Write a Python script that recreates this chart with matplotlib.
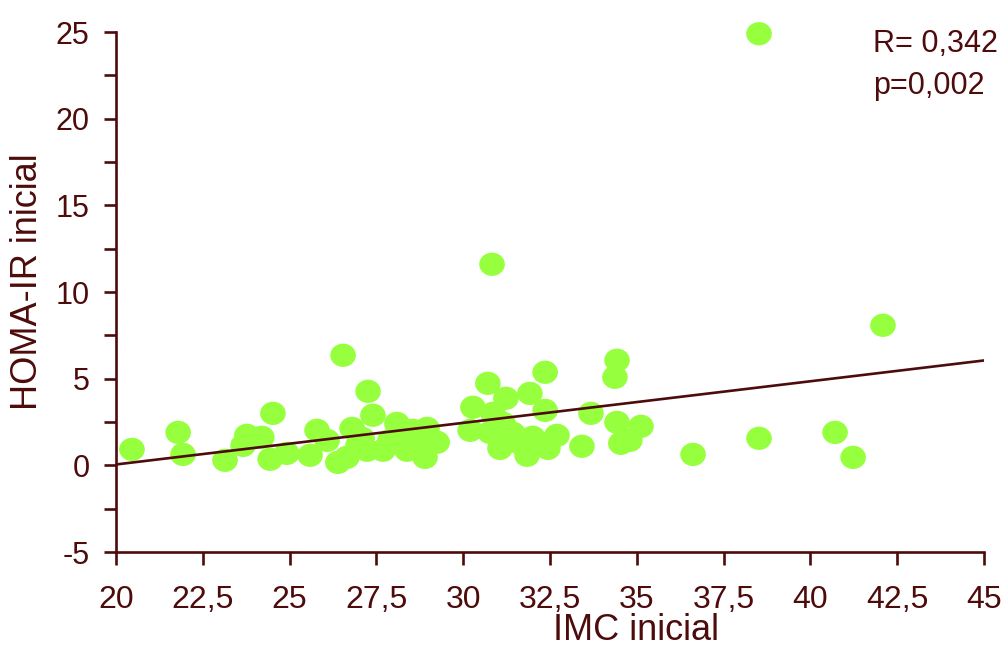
import numpy as np
import matplotlib
matplotlib.use("Agg")
import matplotlib.pyplot as plt
from matplotlib.path import Path
from matplotlib.transforms import Affine2D

# IMC inicial (x) vs HOMA-IR inicial (y)
imc = [20.46, 21.79, 21.93, 23.14, 23.66, 23.77, 24.2, 24.52, 24.44, 24.92,
       25.59, 25.79, 26.08, 26.39, 26.54, 26.65, 26.8, 26.97, 27.09, 27.23,
       27.26, 27.4, 27.69, 28.09, 27.89, 28.3, 28.38, 28.55, 28.9, 28.96,
       29.25, 28.67, 30.2, 30.28, 30.71, 30.86, 30.83, 31.06, 31.15, 31.23,
       31.43, 30.77, 31.84, 31.92, 32.0, 32.36, 32.36, 32.44, 32.7, 31.64,
       32.21, 33.42, 33.68, 34.43, 34.37, 34.43, 35.12, 34.54, 34.8, 36.62,
       38.52, 38.52, 40.71, 41.23, 42.09]
homa = [0.92, 1.90, 0.63, 0.29, 1.15, 1.73, 1.62, 3.0, 0.35, 0.69,
        0.58, 2.02, 1.44, 0.17, 6.35, 0.46, 2.13, 1.15, 1.56, 0.87,
        4.27, 2.89, 0.87, 2.42, 1.44, 1.62, 0.87, 2.02, 0.46, 2.13,
        1.33, 1.04, 2.02, 3.35, 4.73, 3.0, 11.6, 0.98, 2.42, 3.87,
        1.85, 1.90, 0.58, 4.15, 1.62, 5.37, 3.17, 0.98, 1.73, 1.27,
        1.27, 1.10, 3.0, 6.06, 5.08, 2.48, 2.25, 1.27, 1.44, 0.63,
        1.56, 24.9, 1.90, 0.46, 8.08]

# regression line end points
fit_x = [20, 45]
fit_y = [0.05, 6.05]

xtick_labels = ["20", "22,5", "25", "27,5", "30", "32,5", "35",
                "37,5", "40", "42,5", "45"]
stats_text = ["R= 0,342", "p=0,002"]

dark = "#4d0b0b"
green = "#96ff3e"

plt.rcParams['font.family'] = ['Liberation Sans', 'DejaVu Sans']
plt.rcParams['axes.unicode_minus'] = False

W, H = 1004, 646
fig = plt.figure(figsize=(W / 100, H / 100), dpi=100)
ax = fig.add_axes([116 / W, 94 / H, 868 / W, 520 / H])

# slightly wide ellipse marker
ell = Path.unit_circle().transformed(Affine2D().scale(1.1, 1.0))
ax.scatter(imc, homa, s=340, marker=ell, color=green, edgecolors='none',
           zorder=2, clip_on=False)
ax.plot(fit_x, fit_y, color=dark, lw=1.9, zorder=3)

ax.set_xlim(20, 45)
ax.set_ylim(-5, 25)
ax.set_xticks(np.arange(20, 45.1, 2.5))
ax.set_xticklabels(xtick_labels)
ax.set_yticks(np.arange(-5, 25.1, 5))
ax.set_yticks(np.arange(-2.5, 25, 5), minor=True)

for s in ['top', 'right']:
    ax.spines[s].set_visible(False)
for s in ['left', 'bottom']:
    ax.spines[s].set_color(dark)
    ax.spines[s].set_linewidth(1.9)

ax.tick_params(which='both', direction='out', color=dark, width=1.9,
               labelcolor=dark)
ax.tick_params(which='major', length=9)
ax.tick_params(which='minor', length=9)
ax.tick_params(axis='x', labelsize=23, pad=15)
ax.tick_params(axis='y', labelsize=22, pad=10)

# axis titles placed where they sit in the reference
fig.text(636 / W, 1 - 630 / H, "IMC inicial", fontsize=26, color=dark,
         ha='center', va='center')
fig.text(28 / W, 1 - 282 / H, "HOMA-IR inicial", fontsize=26, color=dark,
         ha='center', va='center', rotation=90)

fig.text(873 / W, 1 - 44 / H, stats_text[0], fontsize=22, color=dark,
         va='center')
fig.text(873 / W, 1 - 86 / H, stats_text[1], fontsize=22, color=dark,
         va='center')

plt.savefig("out.png", dpi=100)
